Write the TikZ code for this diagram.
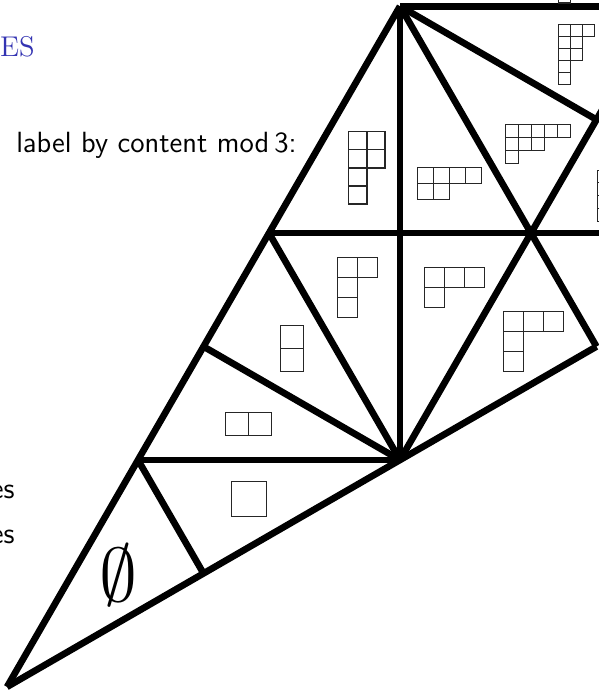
\documentclass[tikz,border=0pt]{standalone}
\usepackage{fontspec}

\definecolor{titleblue}{rgb}{0.2,0.2,0.7}
\tikzset{
  wall/.style = {line width=2.9pt},
  cell/.style = {line width=0.45pt, draw=black!85},
  words/.style = {inner sep=0pt, font=\fontsize{12.7}{15}\selectfont\sffamily},
}
% Young diagram: top left corner, box size, row lengths
\newcommand{\young}[3]{%
  \begin{scope}[shift={#1}, x=#2, y=#2]
    \foreach \len [count=\r] in {#3}
      \foreach \c in {1,...,\len}
        \draw[cell] (\c-1,1-\r) rectangle (\c,-\r);
  \end{scope}}

\begin{document}
\begin{tikzpicture}
    \useasboundingbox (-6.107,-3.527) rectangle (3.038,7.023);
    \clip (-6.107,-3.527) rectangle (3.038,7.023);
    \node[anchor=base east, inner sep=0pt, text=titleblue,
          font=\fontsize{12.4}{14}\selectfont] (title) at (-5.572,6.153) {ES};
    \node[words, anchor=base east] (mod) at (-1.572,4.687) {label by content mod\,3:};
    \node[words, anchor=base east] (first) at (-5.878,-0.595) {es};
    \node[words, anchor=base east] (second) at (-5.878,-1.282) {es};
    % alcove vertices
    \coordinate (D) at (0,0);
    \coordinate (A) at (-6,-3.464);
    \coordinate (B) at (-4,0);
    \coordinate (C) at (-3,-1.732);
    \coordinate (E) at (-3,1.732);
    \coordinate (F) at (-2,3.464);
    \coordinate (H) at (2,3.464);
    \coordinate (I) at (3,1.732);
    \coordinate (J) at (0,6.928);
    \coordinate (K) at (3,5.196);
    \coordinate (L) at (4,6.928);
    \coordinate (M) at (4,3.464);
    \begin{scope}[wall]
      \draw (A) -- (J);
      \draw (A) -- (I);
      \draw (J) -- (L);
      \draw (D) -- (J);
      \draw (B) -- (D);
      \draw (B) -- (C);
      \draw (E) -- (D);
      \draw (F) -- (D);
      \draw (F) -- (M);
      \draw (D) -- (H);
      \draw (H) -- (I);
      \draw (J) -- (H);
      \draw (J) -- (K);
      \draw (H) -- (L);
    \end{scope}
    % labels
    \node[scale=3.3] (empty) at (-4.305,-1.760) {$\emptyset$};
    \young{(-2.572,-0.331)}{0.534cm}{1}
    \young{(-2.661,0.728)}{0.348cm}{2}
    \young{(-1.821,2.056)}{0.351cm}{1,1}
    \young{(-0.947,3.089)}{0.305cm}{2,1,1}
    \young{(0.371,2.936)}{0.305cm}{3,1}
    \young{(1.577,2.270)}{0.305cm}{3,1,1}
    \young{(-0.779,5.008)}{0.275cm}{2,2,1,1}
    \young{(0.270,4.469)}{0.244cm}{4,2}
    \young{(1.608,5.125)}{0.198cm}{5,3,1}
    \young{(2.427,6.652)}{0.183cm}{3,2,2,1,1}
    \young{(3.018,4.427)}{0.197cm}{1,1,1,1}
    \young{(2.427,7.160)}{0.183cm}{1}
\end{tikzpicture}
\end{document}
